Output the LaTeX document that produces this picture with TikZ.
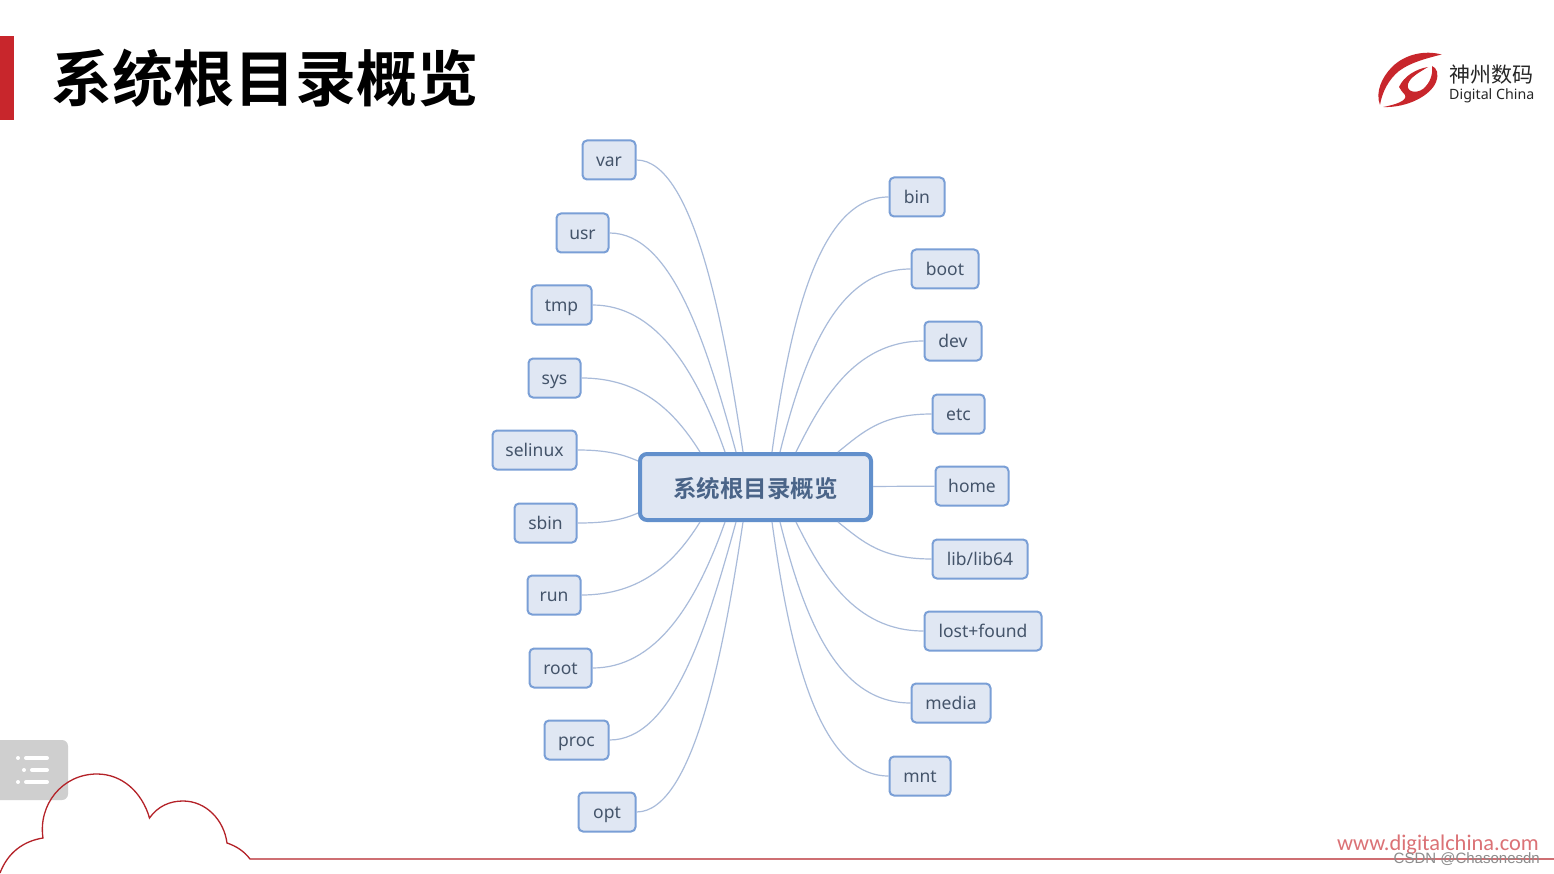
\documentclass[tikz,border=0pt]{standalone}
\usepackage{fontspec}
\setmainfont{Noto Sans}
\newfontfamily\cjk{Noto Sans CJK SC}
\newfontfamily\cjkb{Noto Sans CJK SC Bold}
\newfontfamily\wwwfont{Carlito}
\newfontfamily\csdnfont{Liberation Sans}
\definecolor{brandred}{HTML}{C8262C}
\definecolor{linkc}{HTML}{A9BBDA}
\definecolor{boxfill}{HTML}{E0E7F3}
\definecolor{boxline}{HTML}{7A9FD6}
\definecolor{boxtext}{HTML}{44546A}
\definecolor{rootline}{HTML}{6290CC}
\definecolor{roottext}{HTML}{4A6488}
\definecolor{menugray}{HTML}{CFCFCF}
\tikzset{
  leaf/.style={draw=boxline,fill=boxfill,line width=2pt,rounded corners=4.5pt,inner sep=0pt,minimum height=39pt,text height=14.5pt,text depth=1pt,text=boxtext,font=\fontsize{17.5}{20}\selectfont,anchor=west},
  hub/.style={draw=rootline,fill=boxfill,line width=4pt,rounded corners=7pt,inner sep=0pt,minimum width=231pt,minimum height=66pt,text height=22pt,text depth=2pt,text=roottext,font=\cjkb\fontsize{23.5}{28}\selectfont},
  link/.style={draw=linkc,line width=1.2pt},
  menuline/.style={draw=white,line width=4pt,line cap=round},
  cloudline/.style={draw=brandred!90!black,line width=1.3pt}
}
\begin{document}
\begin{tikzpicture}[x=1pt,y=-1pt]
\useasboundingbox (0,0) rectangle (1554,874);
\fill[white] (0,0) rectangle (1554,874);
% title
\fill[brandred] (0,36) rectangle (14,120);
\node[anchor=center,inner sep=0pt,text=black,font=\cjkb\fontsize{61}{66}\selectfont] (title) at (265,78) {系统根目录概览};
% logo
\fill[brandred] (1441.500,54.500) .. controls (1425,50) and (1405,54) .. (1392,67)
  .. controls (1382,77) and (1375,92) .. (1380,105)
  .. controls (1382,92) and (1389,79) .. (1399,71)
  .. controls (1411,62) and (1428,58) .. (1441.500,54.500) -- cycle;
\fill[brandred] (1399,87) .. controls (1404,76) and (1416,69) .. (1428,67)
  .. controls (1420,72) and (1410,77) .. (1408,84)
  .. controls (1406,92) and (1416,94) .. (1423,89)
  .. controls (1430,83) and (1433,75) .. (1432,66)
  .. controls (1437,68) and (1439,74) .. (1436,82)
  .. controls (1431,95) and (1408,108) .. (1383,107)
  .. controls (1394,105) and (1408,101) .. (1405,95)
  .. controls (1403,92) and (1400,90) .. (1399,87) -- cycle;
\node[anchor=west,inner sep=0pt,text=black!85,font=\cjk\fontsize{21}{24}\selectfont] (logocn) at (1449,75) {神州数码};
\node[anchor=west,inner sep=0pt,text=black!85,font=\fontsize{14.2}{16}\selectfont] (logoen) at (1449,96) {Digital China};
% menu
\fill[menugray,rounded corners=6pt] (-10,740) rectangle (68,800);
\fill[white] (18,758) circle (2pt) (24,770) circle (2pt) (18,782) circle (2pt);
\draw[menuline] (26,758) -- (47,758);
\draw[menuline] (32,770) -- (47,770);
\draw[menuline] (26,782) -- (47,782);
% cloud and rule
\coordinate (c0) at (0,873);
\coordinate (c1) at (43,838);
\coordinate (c2) at (149.500,818);
\coordinate (c3) at (227,843);
\coordinate (c4) at (250,859);
\coordinate (c5) at (1554,859);
\draw[cloudline] (c0) .. controls (8,852) and (24,841) .. (c1)
  .. controls (38,805) and (62,774) .. (97,774)
  .. controls (122,774) and (142,792) .. (c2)
  .. controls (158,806) and (170,801) .. (183,801)
  .. controls (206,801) and (224,820) .. (c3)
  .. controls (236,846) and (244,851) .. (c4) -- (c5);
\node[anchor=east,inner sep=0pt,text=brandred!65,font=\wwwfont\fontsize{22.4}{26}\selectfont] (www) at (1539,845) {www.digitalchina.com};
\node[anchor=east,inner sep=0pt,text=black!45,font=\csdnfont\fontsize{15}{16}\selectfont] (csdn) at (1540,859) {CSDN @Chasonesdn};
% hub
\node[hub] (hub) at (755.500,487) {系统根目录概览};
% attach points
\foreach \n/\x in {tA/700,tB/725,tC/736,tD/743,tE/772,tF/780,tG/796,tH/838}{\coordinate (\n) at (\x,452);}
\foreach \n/\x in {bA/700,bB/725,bC/736,bD/743,bE/772,bF/780,bG/796,bH/838}{\coordinate (\n) at (\x,522);}
\coordinate (lA) at (638,461);
\coordinate (lB) at (638,513);
% left leaves
\node[leaf,minimum width=53pt] (var) at (581.500,160) {var};
\node[leaf,minimum width=52pt] (usr) at (555.500,233) {usr};
\node[leaf,minimum width=60pt] (tmp) at (530.500,305) {tmp};
\node[leaf,minimum width=52pt] (sys) at (527.500,378) {sys};
\node[leaf,minimum width=84pt] (selinux) at (491.500,450) {selinux};
\node[leaf,minimum width=62pt] (sbin) at (513.500,523) {sbin};
\node[leaf,minimum width=53pt] (run) at (526.500,595) {run};
\node[leaf,minimum width=62pt] (rootd) at (528.500,668) {root};
\node[leaf,minimum width=64pt] (proc) at (543.500,740) {proc};
\node[leaf,minimum width=57pt] (opt) at (577.500,812) {opt};
% right leaves
\node[leaf,minimum width=55pt] (bin) at (888.500,197) {bin};
\node[leaf,minimum width=67pt] (boot) at (910.500,269) {boot};
\node[leaf,minimum width=57pt] (dev) at (923.500,341) {dev};
\node[leaf,minimum width=52pt] (etc) at (931.500,414) {etc};
\node[leaf,minimum width=73pt] (home) at (934.500,486) {home};
\node[leaf,minimum width=95pt] (lib) at (931.500,559) {lib/lib64};
\node[leaf,minimum width=117pt] (lost) at (923.500,631) {lost+found};
\node[leaf,minimum width=79pt] (media) at (910.500,703) {media};
\node[leaf,minimum width=61pt] (mnt) at (888.500,776) {mnt};
% connectors
\draw[link] (var.east) .. controls +(58,0) and +(-18,-120) .. (tD);
\draw[link] (usr.east) .. controls +(62,0) and +(-30,-110) .. (tC);
\draw[link] (tmp.east) .. controls +(62,0) and +(-30,-85) .. (tB);
\draw[link] (sys.east) .. controls +(60,0) and +(-25,-40) .. (tA);
\draw[link] (selinux.east) .. controls +(25,0) and +(-18,-8) .. (lA);
\draw[link] (sbin.east) .. controls +(25,0) and +(-18,8) .. (lB);
\draw[link] (run.east) .. controls +(60,0) and +(-25,40) .. (bA);
\draw[link] (rootd.east) .. controls +(62,0) and +(-30,85) .. (bB);
\draw[link] (proc.east) .. controls +(62,0) and +(-30,110) .. (bC);
\draw[link] (opt.east) .. controls +(58,0) and +(-18,120) .. (bD);
\draw[link] (bin.west) .. controls +(-70,0) and +(18,-130) .. (tE);
\draw[link] (boot.west) .. controls +(-72,0) and +(25,-100) .. (tF);
\draw[link] (dev.west) .. controls +(-70,0) and +(25,-50) .. (tG);
\draw[link] (etc.west) .. controls +(-50,0) and +(25,-20) .. (tH);
\draw[link] (hub) -- (home);
\draw[link] (lib.west) .. controls +(-50,0) and +(25,20) .. (bH);
\draw[link] (lost.west) .. controls +(-70,0) and +(25,50) .. (bG);
\draw[link] (media.west) .. controls +(-72,0) and +(25,100) .. (bF);
\draw[link] (mnt.west) .. controls +(-70,0) and +(18,130) .. (bE);
\end{tikzpicture}
\end{document}
